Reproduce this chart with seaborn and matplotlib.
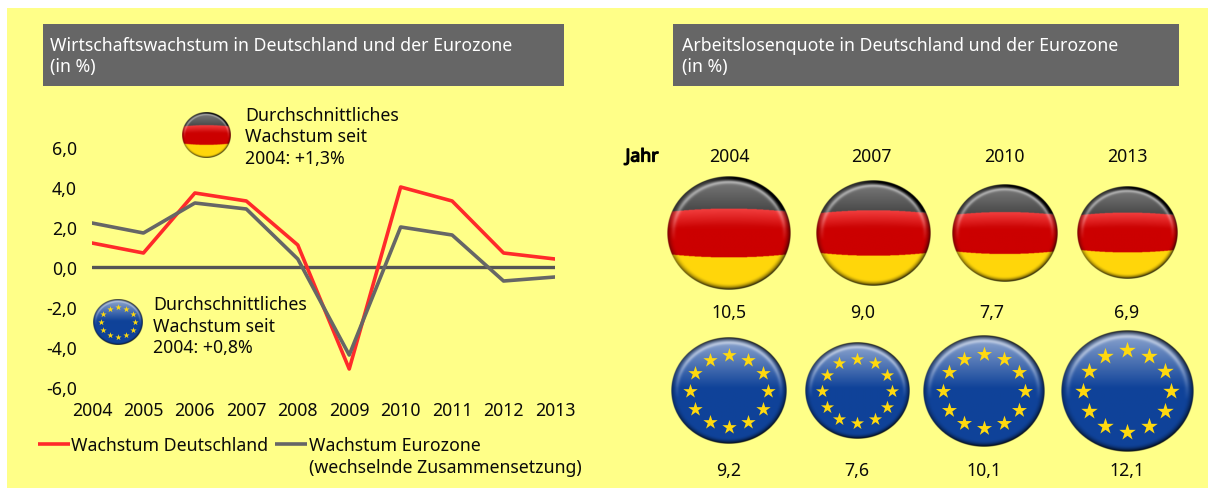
import numpy as np
import pandas as pd
import seaborn as sns
import matplotlib
matplotlib.use("Agg")
import matplotlib.pyplot as plt
import matplotlib.patheffects as pe
from matplotlib.patches import Rectangle

years = [2004, 2005, 2006, 2007, 2008, 2009, 2010, 2011, 2012, 2013]
wachstum_de = [1.2, 0.7, 3.7, 3.3, 1.1, -5.1, 4.0, 3.3, 0.7, 0.4]
wachstum_eu = [2.2, 1.7, 3.2, 2.9, 0.4, -4.4, 2.0, 1.6, -0.7, -0.5]
y_ticks = [-6, -4, -2, 0, 2, 4, 6]

quote_years = [2004, 2007, 2010, 2013]
quote_de = [10.5, 9.0, 7.7, 6.9]
quote_eu = [9.2, 7.6, 10.1, 12.1]

YELLOW = "#FFFF88"
RED = "#FF2A2A"
GRAY = "#666666"
INK = "#0A0A0A"


def komma(v, nd=1):
    return f"{v:.{nd}f}".replace(".", ",")


def badge(kind, n=300):
    # glossy round button as rgba image
    v, u = np.mgrid[-1:1:n * 1j, -1:1:n * 1j]
    r = np.sqrt(u ** 2 + v ** 2)
    img = np.zeros((n, n, 4))
    if kind == "de":
        curve = 0.37 + 0.06 * (1 - u ** 2)
        img[..., :3] = np.array([0.80, 0.0, 0.0])
        top = v < -curve
        low = v > curve
        shade = np.clip((-v - 0.3) / 0.7, 0, 1)[..., None]
        img[..., :3] = np.where(top[..., None], 0.18 + 0.1 * shade, img[..., :3])
        img[..., :3] = np.where(low[..., None], np.array([1.0, 0.84, 0.04]), img[..., :3])
        # lighter upper edge of the red band
        red_top = np.clip(1 - (v + curve) / 0.3, 0, 1)[..., None] * (~top & ~low)[..., None]
        img[..., :3] = img[..., :3] + red_top * 0.14
    else:
        img[..., :3] = np.array([0.06, 0.26, 0.60])
    # gloss on the upper half
    gloss = np.clip((-v - 0.05) / 0.95, 0, 1)[..., None] * (0.55 if kind == "eu" else 0.3)
    img[..., :3] = img[..., :3] * (1 - gloss) + gloss
    # thin highlight arc
    arc = np.exp(-((r - 0.9) / 0.035) ** 2) * np.clip(-v * 1.4 + 0.2, 0, 1)
    img[..., :3] = img[..., :3] * (1 - 0.45 * arc[..., None]) + 0.45 * arc[..., None]
    # dark rim, heavier at the bottom and the top right
    rim = np.clip((r - 0.88) / 0.12, 0, 1) ** 2
    rim = rim * (0.45 + 0.55 * np.clip(np.abs(v) + 0.3 * u, 0, 1))
    if kind == "de":
        rim = np.where(v < -0.4, np.maximum(rim, np.clip((r - 0.9) / 0.06, 0, 1) * np.clip(u + 0.9, 0, 1)), rim)
    img[..., :3] = np.clip(img[..., :3] * (1 - rim[..., None]), 0, 1)
    img[..., 3] = np.clip((1 - r) * n / 2, 0, 1)
    return img


def place_badge(ax, kind, cx, cy, w, h):
    ax.imshow(badge(kind), extent=(cx - w / 2, cx + w / 2, cy + h / 2, cy - h / 2),
              aspect="auto", zorder=3, interpolation="bilinear")
    if kind == "eu":
        ang = np.deg2rad(np.arange(12) * 30)
        sx = cx + 0.67 * w / 2 * np.sin(ang)
        sy = cy - 0.67 * h / 2 * np.cos(ang)
        ax.scatter(sx, sy, marker="*", s=(w * 0.105) ** 2 * 0.8, color="#FFD90F",
                   linewidths=0, zorder=4)


def durchmesser(v):
    return np.sqrt(1450 * v)


sns.set_theme(style="white")
plt.rcParams["font.family"] = ["Noto Sans", "DejaVu Sans"]

W, H = 1208, 489
fig = plt.figure(figsize=(W / 100, H / 100), dpi=100, facecolor="white")

# pixel canvas for panel, headers, badges and free text
bg = fig.add_axes([0, 0, 1, 1], zorder=0)
bg.axis("off")
bg.add_patch(Rectangle((7, 9), W - 7, H - 9, color=YELLOW, lw=0))
bg.add_patch(Rectangle((43, 25), 521, 62, color="#666666", lw=0))
bg.add_patch(Rectangle((673, 25), 506, 62, color="#666666", lw=0))

fs = 12.75
ls = 1.25
bg.text(50, 56.5, "Wirtschaftswachstum in Deutschland und der Eurozone\n(in %)",
        color="white", fontsize=fs, va="center", linespacing=ls)
bg.text(682, 56.5, "Arbeitslosenquote in Deutschland und der Eurozone\n(in %)",
        color="white", fontsize=fs, va="center", linespacing=ls)

bg.text(245, 137.5, "Durchschnittliches\nWachstum seit\n2004: +1,3%", color=INK,
        fontsize=fs, va="center", linespacing=ls)
bg.text(153, 326.5, "Durchschnittliches\nWachstum seit\n2004: +0,8%", color=INK,
        fontsize=fs, va="center", linespacing=ls)
place_badge(bg, "de", 206, 136, 49, 46)
place_badge(bg, "eu", 118, 323, 50, 46)

# legend
bg.plot([38, 70], [445, 445], color=RED, lw=2.6, solid_capstyle="butt")
bg.text(71, 446, "Wachstum Deutschland", color=INK, fontsize=fs, va="center")
bg.plot([275, 307], [445, 445], color=GRAY, lw=2.6, solid_capstyle="butt")
bg.text(309, 457, "Wachstum Eurozone\n(wechselnde Zusammensetzung)", color=INK,
        fontsize=fs, va="center", linespacing=ls)

# right panel
x_top = [729, 871, 1004, 1127]
x_de = [729, 873, 1005, 1127]
x_eu = [729, 857, 984, 1127]
x_de_txt = [729, 863, 992, 1127]
bg.text(642, 157.5, "Jahr", color="black", fontsize=fs, ha="center", va="center",
        path_effects=[pe.withStroke(linewidth=0.9, foreground="black")])
for i, jahr in enumerate(quote_years):
    bg.text(x_top[i], 157.5, str(jahr), color=INK, fontsize=fs, ha="center", va="center")
    d = durchmesser(quote_de[i])
    place_badge(bg, "de", x_de[i], 234, d, d * 0.92)
    bg.text(x_de_txt[i], 312.5, komma(quote_de[i]), color=INK, fontsize=fs, ha="center", va="center")
    d = durchmesser(quote_eu[i])
    place_badge(bg, "eu", x_eu[i], 392, d, d * 0.92)
    bg.text(x_eu[i], 471, komma(quote_eu[i]), color=INK, fontsize=fs, ha="center", va="center")
bg.set_xlim(0, W)
bg.set_ylim(H, 0)

# line chart
ax = fig.add_axes([92 / W, 1 - 388 / H, 463 / W, 240 / H], zorder=1)
ax.patch.set_alpha(0)
df = pd.DataFrame({
    "Jahr": years * 2,
    "Wachstum": wachstum_de + wachstum_eu,
    "Reihe": ["Deutschland"] * len(years) + ["Eurozone"] * len(years),
})
ax.axhline(0, color="#555555", lw=2.4, zorder=1)
sns.lineplot(data=df, x="Jahr", y="Wachstum", hue="Reihe", palette=[RED, GRAY],
             linewidth=2.6, legend=False, ax=ax, zorder=2)
ax.set_xlim(2004, 2013)
ax.set_ylim(-6, 6)
ax.set_xticks(years)
ax.set_yticks(y_ticks)
ax.set_xticklabels([str(j) for j in years])
ax.set_yticklabels([komma(v) for v in y_ticks])
ax.set_xlabel("")
ax.set_ylabel("")
ax.tick_params(axis="both", length=0, labelsize=fs, labelcolor=INK)
ax.tick_params(axis="y", pad=11)
ax.tick_params(axis="x", pad=10)
sns.despine(ax=ax, left=True, bottom=True)

fig.savefig("out.png", dpi=100, facecolor="white")
